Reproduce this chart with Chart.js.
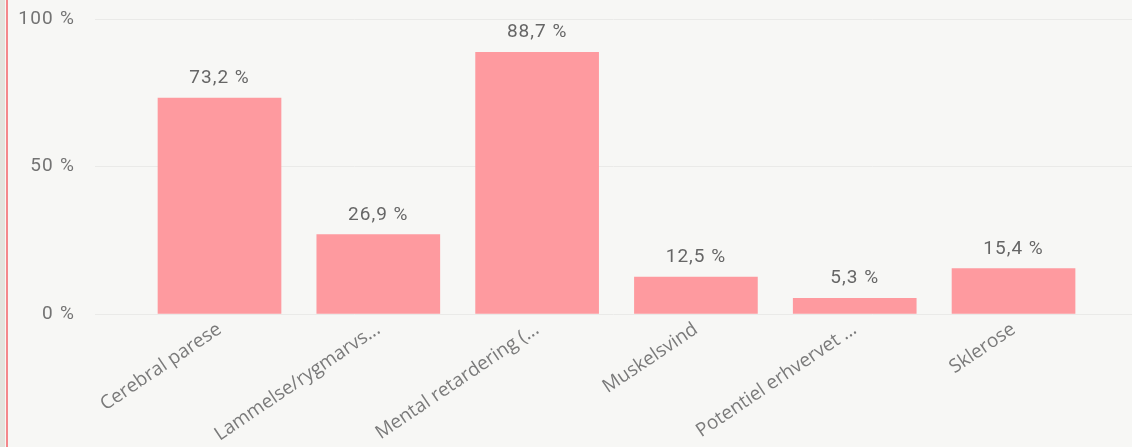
<!DOCTYPE html>
<html>
<head>
<meta charset="utf-8">
<script src="https://cdn.jsdelivr.net/npm/chart.js@4/dist/chart.umd.min.js"></script>
<style>
  html, body { margin: 0; padding: 0; background: #f7f7f5; }
  #wrap { position: relative; width: 1132px; height: 447px; overflow: hidden; }
  #strip { position: absolute; left: 0; top: 0; width: 5px; height: 447px; background: #e3e3dd; }
  #redline { position: absolute; left: 6px; top: 0; width: 2px; height: 447px; background: #f4878b; }
  canvas { position: absolute; left: 0; top: 0; }
</style>
</head>
<body>
<div id="wrap">
  <canvas id="c" width="1132" height="447"></canvas>
  <div id="strip"></div>
  <div id="redline"></div>
</div>
<script>
const categories = [
  "Cerebral parese",
  "Lammelse/rygmarvs...",
  "Mental retardering (...",
  "Muskelsvind",
  "Potentiel erhvervet ...",
  "Sklerose"
];
const values = [73.2, 26.9, 88.7, 12.5, 5.3, 15.4];
const yTicks = [0, 50, 100];

const fmt = v => v.toFixed(1).replace('.', ',') + ' %';

const spacingFix = {
  id: 'spacingFix',
  afterLayout(chart) {
    const s = chart.scales.y;
    if (s && !s._wrapped) {
      const orig = s.drawLabels;
      s.drawLabels = function (a) {
        const ctx = this.ctx;
        const prev = ctx.letterSpacing;
        ctx.letterSpacing = '1.2px';
        orig.call(this, a);
        ctx.letterSpacing = prev || '0px';
      };
      s._wrapped = true;
    }
  }
};

const dataLabels = {
  id: 'dataLabels',
  afterDatasetsDraw(chart) {
    const ctx = chart.ctx;
    const meta = chart.getDatasetMeta(0);
    ctx.save();
    ctx.font = '19px Roboto';
    ctx.fillStyle = '#666666';
    ctx.textAlign = 'center';
    ctx.textBaseline = 'alphabetic';
    ctx.letterSpacing = '1px';
    meta.data.forEach((bar, i) => {
      ctx.fillText(fmt(values[i]), bar.x, bar.y - 15);
    });
    ctx.restore();
  }
};

new Chart(document.getElementById('c'), {
  type: 'bar',
  data: {
    datasets: [{
      data: values.map((v, i) => ({ x: i, y: v })),
      backgroundColor: '#fe9a9f',
      borderWidth: 0,
      barThickness: 123
    }]
  },
  options: {
    responsive: false,
    devicePixelRatio: 1,
    animation: false,
    layout: { padding: { top: 19, right: 0, bottom: 0, left: 0 } },
    plugins: { legend: { display: false }, tooltip: { enabled: false } },
    scales: {
      x: {
        type: 'linear',
        offset: false,
        min: -0.784,
        max: 5.746,
        grid: { display: false, drawTicks: false, offset: false },
        border: { display: false },
        afterBuildTicks: axis => { axis.ticks = categories.map((c, i) => ({ value: i })); },
        afterFit: axis => { axis.height = 133; axis.paddingLeft = 0; axis.paddingRight = 0; },
        ticks: {
          autoSkip: false,
          minRotation: 34,
          maxRotation: 34,
          padding: 4,
          color: '#7a7a7a',
          font: { family: 'Open Sans', size: 19 },
          callback: v => categories[v]
        }
      },
      y: {
        min: 0,
        max: 100,
        afterBuildTicks: axis => { axis.ticks = yTicks.map(v => ({ value: v })); },
        afterFit: axis => { axis.width = 95; axis.paddingTop = 0; axis.paddingBottom = 0; },
        grid: { color: '#eaeae8', lineWidth: 1, drawTicks: false },
        border: { display: false },
        ticks: {
          padding: 20,
          color: '#737373',
          font: { family: 'Roboto', size: 19 },
          callback: v => v + ' %'
        }
      }
    }
  },
  plugins: [spacingFix, dataLabels]
});
</script>
</body>
</html>
